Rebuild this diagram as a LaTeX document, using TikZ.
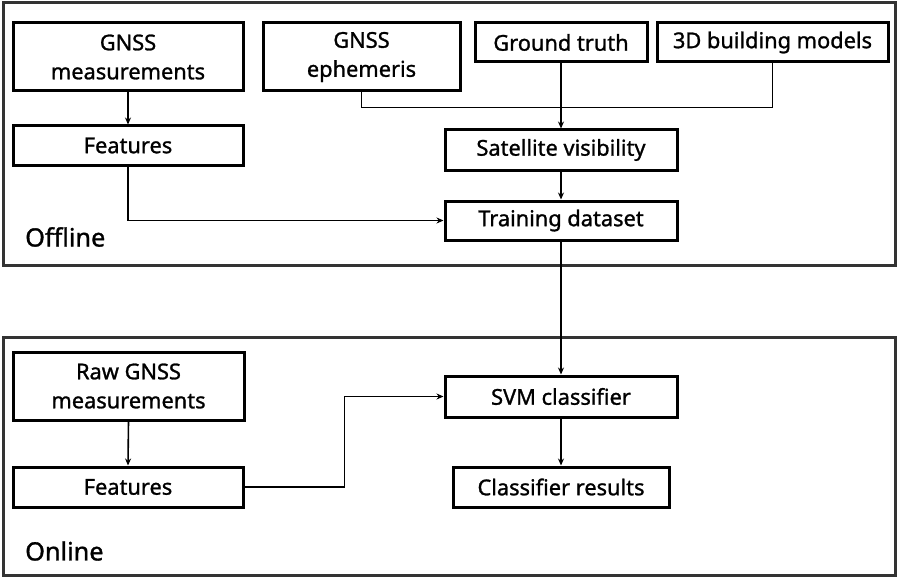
\documentclass[tikz,border=0pt]{standalone}
\usepackage{fontspec}
\setmainfont{Noto Sans}[FakeBold=1.2]
\usetikzlibrary{arrows.meta}
\begin{document}
\begin{tikzpicture}[x=1pt,y=-1pt,
  box/.style={draw=black, line width=3pt, rectangle, inner sep=0pt, align=center, font=\fontsize{21.8}{29}\selectfont},
  frame/.style={draw=black!80, line width=3pt},
  arr/.style={line width=1.6pt, -{Stealth[length=7pt,width=6pt]}},
  ln/.style={line width=1.6pt},
  lbl/.style={anchor=west, inner sep=0pt, font=\fontsize{25.3}{30}\selectfont}]
\useasboundingbox (0,0) rectangle (898,578);
\draw[frame] (3,3) rectangle (895,265);
\draw[frame] (3,337) rectangle (895,575);
\node[box, minimum width=230, minimum height=68] (gm) at (128,57) {GNSS\\measurements};
\node[box, minimum width=197, minimum height=68] (ge) at (361.5,57) {GNSS\\ephemeris};
\node[box, minimum width=172, minimum height=39] (gt) at (561,42.5) {Ground truth};
\node[box, minimum width=231, minimum height=39] (bm) at (772.5,42.5) {3D building models};
\node[box, minimum width=230, minimum height=39] (f1) at (128,145.5) {Features};
\node[box, minimum width=232, minimum height=40] (sv) at (561,150) {Satellite visibility};
\node[box, minimum width=232, minimum height=39] (td) at (561,220.5) {Training dataset};
\node[lbl] (off) at (25,237) {Offline};
\node[box, minimum width=231, minimum height=68] (rg) at (128.5,386) {Raw GNSS\\measurements};
\node[box, minimum width=230, minimum height=40] (f2) at (128,487) {Features};
\node[box, minimum width=232, minimum height=41] (svm) at (561,396.5) {SVM classifier};
\node[box, minimum width=216, minimum height=40] (cr) at (561,487) {Classifier results};
\node[lbl] (on) at (25,551) {Online};
\draw[arr] (gm.south) -- (f1.north);
\draw[ln] (ge.south) -- ++(0,15) -| (bm.south);
\draw[arr] (gt.south) -- (sv.north);
\draw[arr] (sv.south) -- (td.north);
\draw[arr] (f1.south) |- (td.west);
\draw[arr] (td.south) -- (svm.north);
\draw[arr] (rg.south) -- (f2.north);
\draw[arr] (f2.east) -- ++(100,0) |- (svm.west);
\draw[arr] (svm.south) -- (cr.north);
\end{tikzpicture}
\end{document}
